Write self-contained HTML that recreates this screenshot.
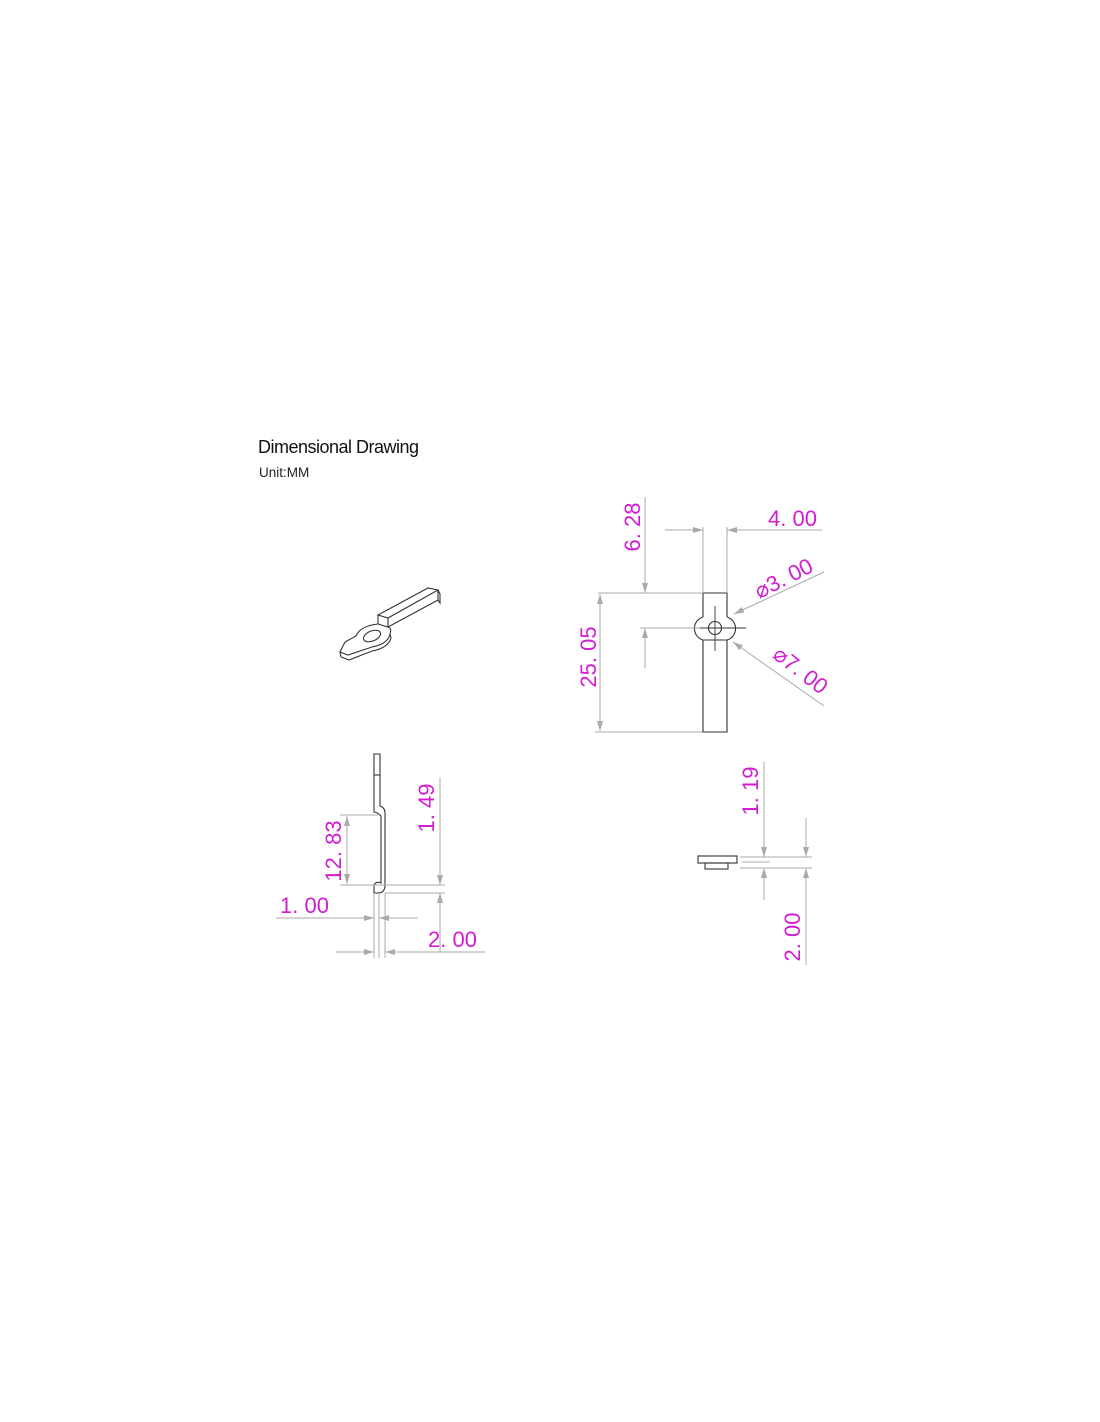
<!DOCTYPE html>
<html><head><style>
html,body{margin:0;padding:0;background:#fff;}
body{width:1100px;height:1422px;position:relative;overflow:hidden;font-family:"Liberation Sans",sans-serif;}
.t{position:absolute;color:#111;}
</style></head><body>
<div class="t" style="left:258px;top:437px;font-size:18px;letter-spacing:-0.5px;">Dimensional Drawing</div>
<div class="t" style="left:259px;top:465px;font-size:13.5px;color:#222;">Unit:MM</div>
<svg width="1100" height="1422" style="position:absolute;left:0;top:0" xmlns="http://www.w3.org/2000/svg">
<defs>
<marker id="a" viewBox="0 0 10 6" refX="10" refY="3" markerWidth="14" markerHeight="6" markerUnits="userSpaceOnUse" orient="auto"><path d="M0,0 L10,3 L0,6 Z" fill="#aaa"/></marker>
</defs>
<g fill="none" stroke="#333" stroke-width="1.1">
<!-- isometric -->
<path d="M378,615 L428,588 L438,590 L388,618 Z"/>
<path d="M378,615 L378,624 L388,627 L388,618"/>
<path d="M388,627 L438,600 L438,590"/>
<path d="M438,600 L440,603 L440,594 L438,590"/>
<path d="M378,624 Q360,626 356,636 L345,642 L340,652 L348,655 L372,647 Q388,644 390,634 Q392,628 388,627"/>
<path d="M340,652 L341,657 L349,660 L372,651 Q388,648 391,638 L390,634"/>
<ellipse cx="372" cy="636" rx="9" ry="5" transform="rotate(-22 372 636)"/>
<!-- top right view -->
<path d="M703,617 L703,593 L727,593 L727,617"/>
<path d="M703,640 L703,732 L727,732 L727,640"/>
<path d="M703,617 A12,12 0 0 0 703,640 M727,617 A12,12 0 0 1 727,640"/>
<line x1="703" y1="640" x2="727" y2="640"/>
<circle cx="715" cy="628" r="6.5"/>
<line x1="715" y1="606" x2="715" y2="651" stroke-width="0.9"/>
<line x1="690" y1="628" x2="746" y2="628" stroke-width="0.9"/>
<!-- side view -->
<path d="M374,754 L380,754 L380,806 Q386,808 385,816 L385,885 Q385,893 378,893 L374,893 L374,885 Q376,881 381,883 L381,816 Q377,812 374,812 Z"/>
<line x1="374" y1="775" x2="380" y2="775"/>
<!-- small view -->
<rect x="698" y="856" width="39" height="7"/>
<rect x="705" y="863" width="23" height="6"/>
</g>
<g stroke="#aaa" stroke-width="1" fill="none">
<line x1="703" y1="527" x2="703" y2="592"/><line x1="727" y1="527" x2="727" y2="592"/>
<line x1="665" y1="530" x2="703" y2="530" marker-end="url(#a)"/>
<line x1="822" y1="530" x2="727" y2="530" marker-end="url(#a)"/>
<line x1="645" y1="497" x2="645" y2="593" marker-end="url(#a)"/>
<line x1="598" y1="593" x2="702" y2="593"/>
<line x1="645" y1="668" x2="645" y2="628" marker-end="url(#a)"/>
<line x1="640" y1="628" x2="700" y2="628"/>
<line x1="600" y1="660" x2="600" y2="594" marker-end="url(#a)"/>
<line x1="600" y1="660" x2="600" y2="731" marker-end="url(#a)"/>
<line x1="595" y1="732" x2="702" y2="732"/>
<line x1="824" y1="572" x2="734" y2="614" marker-end="url(#a)"/>
<line x1="824" y1="706" x2="733" y2="642" marker-end="url(#a)"/>
<line x1="340" y1="815" x2="378" y2="815"/>
<line x1="340" y1="885" x2="445" y2="885"/>
<line x1="347" y1="850" x2="347" y2="816" marker-end="url(#a)"/>
<line x1="347" y1="850" x2="347" y2="884" marker-end="url(#a)"/>
<line x1="440" y1="778" x2="440" y2="885" marker-end="url(#a)"/>
<line x1="440" y1="952" x2="440" y2="893" marker-end="url(#a)"/>
<line x1="385" y1="893" x2="445" y2="893"/>
<line x1="374" y1="893" x2="374" y2="958"/><line x1="379" y1="893" x2="379" y2="958"/><line x1="385" y1="893" x2="385" y2="958"/>
<line x1="276" y1="918" x2="374" y2="918" marker-end="url(#a)"/>
<line x1="418" y1="918" x2="379" y2="918" marker-end="url(#a)"/>
<line x1="336" y1="952" x2="374" y2="952" marker-end="url(#a)"/>
<line x1="485" y1="952" x2="385" y2="952" marker-end="url(#a)"/>
<line x1="740" y1="857" x2="812" y2="857"/>
<line x1="740" y1="868" x2="812" y2="868"/>
<line x1="742" y1="862" x2="770" y2="862"/>
<line x1="764" y1="762" x2="764" y2="857" marker-end="url(#a)"/>
<line x1="764" y1="900" x2="764" y2="868" marker-end="url(#a)"/>
<line x1="806" y1="818" x2="806" y2="857" marker-end="url(#a)"/>
<line x1="806" y1="965" x2="806" y2="868" marker-end="url(#a)"/>
</g>
<g fill="#d21bd2" font-family="Liberation Sans, sans-serif" font-size="22">
<text x="768" y="526">4. 00</text>
<text x="280" y="913">1. 00</text>
<text x="428" y="947">2. 00</text>
<text transform="translate(640,527) rotate(-90)" text-anchor="middle">6. 28</text>
<text transform="translate(596,657) rotate(-90)" text-anchor="middle">25. 05</text>
<text transform="translate(341,851) rotate(-90)" text-anchor="middle">12. 83</text>
<text transform="translate(434,808) rotate(-90)" text-anchor="middle">1. 49</text>
<text transform="translate(758,791) rotate(-90)" text-anchor="middle">1. 19</text>
<text transform="translate(800,937) rotate(-90)" text-anchor="middle">2. 00</text>
<text transform="translate(787,585) rotate(-27)" text-anchor="middle">⌀3. 00</text>
<text transform="translate(796,676) rotate(38)" text-anchor="middle">⌀7. 00</text>
</g>
</svg>
</body></html>
